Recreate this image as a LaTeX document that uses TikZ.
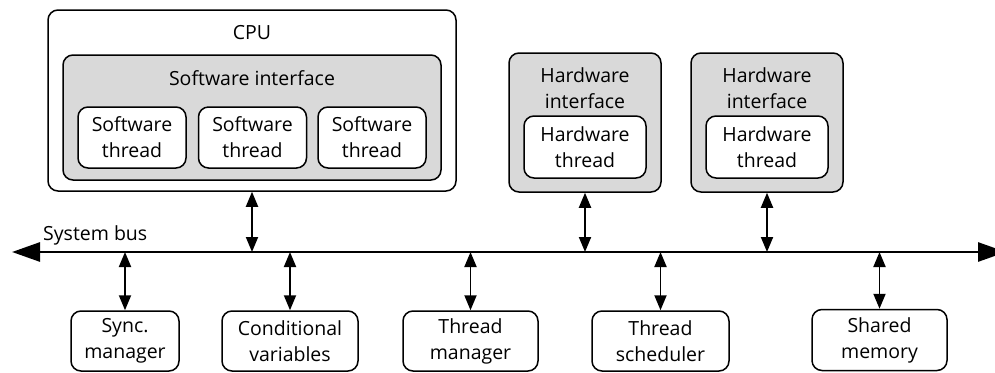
\documentclass[tikz,border=0pt]{standalone}
\usepackage{fontspec}
\setmainfont{Open Sans}
\usetikzlibrary{arrows.meta}
\begin{document}
\begin{tikzpicture}[x=1pt,y=-1pt,
  every node/.style={font=\fontsize{19.5}{26}\selectfont, align=center, inner sep=0pt},
  box/.style={draw, line width=1.5pt, rounded corners=10pt, fill=white},
  greybox/.style={box, fill=black!15},
  txt/.style={draw=none, fill=none},
  link/.style={line width=1.9pt, {Triangle[length=15pt,width=12pt]}-{Triangle[length=15pt,width=12pt]}},
  busline/.style={line width=2.8pt, {Triangle[length=28pt,width=19pt]}-{Triangle[length=28pt,width=19pt]}}]
\useasboundingbox (0,0) rectangle (995,372);
\clip (0,0) rectangle (995,372);

% CPU with its software interface and threads
\node[box, minimum width=408pt, minimum height=181pt] (cpu) at (252,100.5) {};
\node[txt] (cpulbl) at (252,33) {CPU};
\node[greybox, minimum width=378pt, minimum height=125pt] (swif) at (252,117.5) {};
\node[txt] (swiflbl) at (252,78) {Software interface};
\node[box, minimum width=108pt, minimum height=61pt] (sw1) at (132,137.5) {Software\\thread};
\node[box, minimum width=108pt, minimum height=61pt] (sw2) at (252.5,137.5) {Software\\thread};
\node[box, minimum width=108pt, minimum height=61pt] (sw3) at (372,137.5) {Software\\thread};

% Hardware interfaces
\node[greybox, minimum width=152pt, minimum height=139pt] (hw1) at (585,122.5) {};
\node[txt] (hw1lbl) at (585,88.5) {Hardware\\interface};
\node[box, minimum width=122pt, minimum height=62pt] (ht1) at (585,147) {Hardware\\thread};
\node[greybox, minimum width=152pt, minimum height=139pt] (hw2) at (767,122.5) {};
\node[txt] (hw2lbl) at (767,88.5) {Hardware\\interface};
\node[box, minimum width=122pt, minimum height=62pt] (ht2) at (767,147) {Hardware\\thread};

% System bus
\coordinate (busL) at (12,252);
\coordinate (busR) at (1006,252);
\draw[busline] (busL) -- (busR);
\node[txt, anchor=base west] (buslbl) at (43,240) {System bus};

% Modules below the bus
\node[box, minimum width=108pt, minimum height=60pt] (sync) at (125,341) {Sync.\\manager};
\node[box, minimum width=136pt, minimum height=60pt] (cond) at (290,341) {Conditional\\variables};
\node[box, minimum width=135pt, minimum height=60pt] (tman) at (470.5,341) {Thread\\manager};
\node[box, minimum width=137pt, minimum height=60pt] (tsch) at (660.5,341) {Thread\\scheduler};
\node[box, minimum width=135pt, minimum height=61pt] (smem) at (879.5,340) {Shared\\memory};

% Bus taps
\coordinate (tcpu) at (252,252);
\coordinate (thw1) at (585,252);
\coordinate (thw2) at (767,252);
\coordinate (tsync) at (125,252);
\coordinate (tcond) at (290,252);
\coordinate (ttman) at (470.5,252);
\coordinate (ttsch) at (660.5,252);
\coordinate (tsmem) at (879.5,252);

\draw[link] (cpu.south) -- (tcpu);
\draw[link] (hw1.south) -- (thw1);
\draw[link] (hw2.south) -- (thw2);
\draw[link] (tsync) -- (sync.north);
\draw[link] (tcond) -- (cond.north);
\draw[link] (ttman) -- (tman.north);
\draw[link] (ttsch) -- (tsch.north);
\draw[link] (tsmem) -- (smem.north);
\end{tikzpicture}
\end{document}
